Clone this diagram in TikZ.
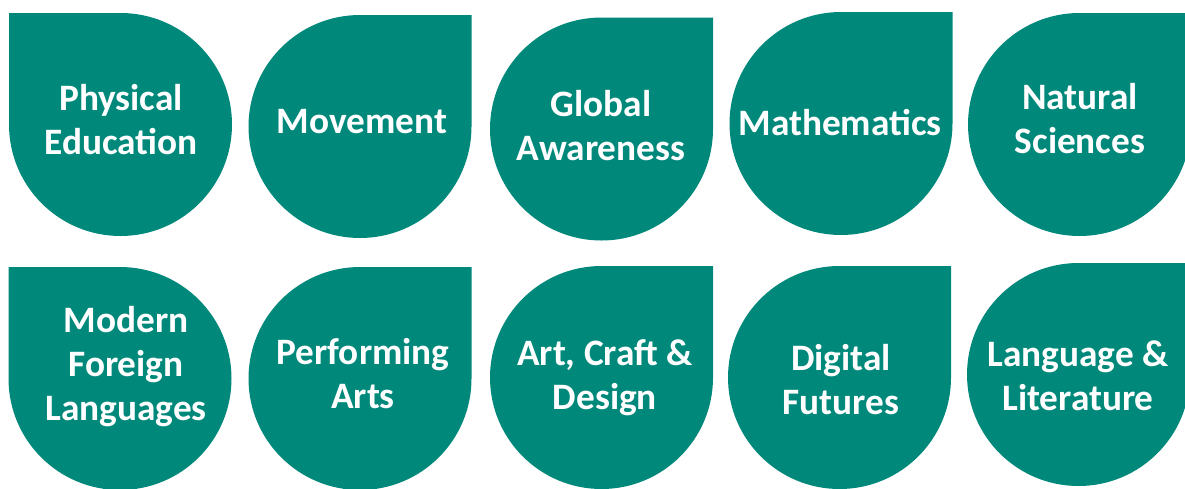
\documentclass[tikz,border=0pt]{standalone}
\usepackage{fontspec}
\setmainfont{Carlito}
\definecolor{dropteal}{RGB}{0,137,123}
\tikzset{
  droplabel/.style={align=center, text=white, inner sep=0pt,
    font=\fontsize{37.3}{44}\selectfont\bfseries}
}
\begin{document}
\begin{tikzpicture}
        [x=1pt, y=-1pt]
        \useasboundingbox (0,0) rectangle (1185,488);

        % drops, square top-left corner
        \foreach \cx/\cy in {120.5/124.5, 120/378.5}
        \fill[dropteal] (\cx-111.5,\cy-111.5) -- (\cx,\cy-111.5)
            arc[start angle=-90, end angle=180, radius=111.5] -- cycle;

        % drops, square top-right corner
        \foreach \cx/\cy in {360/126.5, 601.5/129, 841/123.5, 1079.5/124.5,
                             360/378.5, 601.5/377.5, 839.5/377.5, 1078.5/374.5}
        \fill[dropteal] (\cx,\cy-111.5) -- (\cx+111.5,\cy-111.5) -- (\cx+111.5,\cy)
            arc[start angle=0, end angle=270, radius=111.5] -- cycle;

        \node[droplabel] (physical) at (121,120) {Physical\\Education};
        \node[droplabel] (movement) at (362,122) {Movement};
        \node[droplabel] (global) at (601,126) {Global\\Awareness};
        \node[droplabel] (maths) at (840,123) {Mathematics};
        \node[droplabel] (natural) at (1080,119) {Natural\\Sciences};
        \node[droplabel] (languages) at (126,367) {Modern\\Foreign\\Languages};
        \node[droplabel] (performing) at (363,374) {Performing\\Arts};
        \node[droplabel] (art) at (605,378) {Art, Craft \&\\Design};
        \node[droplabel] (digital) at (841,380) {Digital\\Futures};
        \node[droplabel] (literature) at (1078,376) {Language \&\\Literature};
    \end{tikzpicture}
\end{document}
